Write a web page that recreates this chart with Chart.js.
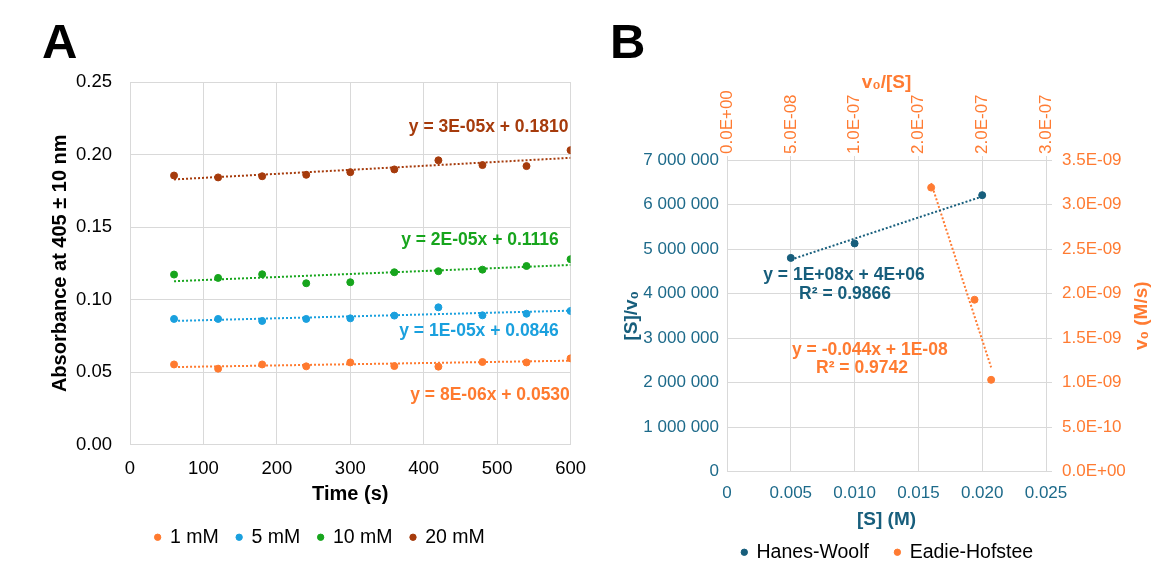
<!DOCTYPE html>
<html>
<head>
<meta charset="utf-8">
<script src="https://cdn.jsdelivr.net/npm/chart.js@4.4.0/dist/chart.umd.min.js"></script>
<style>
    html, body { margin: 0; padding: 0; background: #fff; }
    body { width: 1160px; height: 561px; position: relative; overflow: hidden; font-family: "Liberation Sans", Arial, sans-serif; }
    .letter { position: absolute; font-weight: bold; font-size: 49px; line-height: 1; color: #000; }
    #chart-a { position: absolute; left: 0; top: 0; }
    #chart-b { position: absolute; left: 600px; top: 0; }
</style>
</head>
<body>
<div class="letter" style="left:42px; top:17px;">A</div>
<div class="letter" style="left:610px; top:17px;">B</div>
<canvas id="chart-a" width="599" height="561"></canvas>
<canvas id="chart-b" width="560" height="580"></canvas>
<script>
// ---- panel A : absorbance vs time ----
var timeS = [60, 120, 180, 240, 300, 360, 420, 480, 540, 600];
var abs1mM = [0.0552, 0.0523, 0.0552, 0.0539, 0.0566, 0.0541, 0.0537, 0.0569, 0.0566, 0.0594];
var abs5mM = [0.0866, 0.0866, 0.0852, 0.0866, 0.0870, 0.0889, 0.0946, 0.0891, 0.0902, 0.0921];
var abs10mM = [0.1172, 0.1149, 0.1174, 0.1112, 0.1119, 0.1188, 0.1195, 0.1206, 0.1231, 0.1278];
var abs20mM = [0.1855, 0.1842, 0.1850, 0.1860, 0.1878, 0.1897, 0.1960, 0.1927, 0.1920, 0.2030];

// trend lines, end points
var trendTime = [60, 600];
var trend1mM = [0.0534, 0.0578];
var trend5mM = [0.0852, 0.0923];
var trend10mM = [0.1126, 0.1238];
var trend20mM = [0.1828, 0.1977];

var seriesNamesA = ['1 mM', '5 mM', '10 mM', '20 mM'];
var timeTicks = [0, 100, 200, 300, 400, 500, 600];
var absTicks = [0, 0.05, 0.10, 0.15, 0.20, 0.25];
var absTickLabels = ['0.00', '0.05', '0.10', '0.15', '0.20', '0.25'];
var eqTextA = ['y = 8E-06x + 0.0530', 'y = 1E-05x + 0.0846', 'y = 2E-05x + 0.1116', 'y = 3E-05x + 0.1810'];

// ---- panel B : Hanes-Woolf / Eadie-Hofstee ----
var substrateM = [0.005, 0.010, 0.020];
var hanesWoolf = [4800000, 5125000, 6210000];
var hwTrendX = [0.005, 0.020];
var hwTrendY = [4760000, 6180000];

var eadieX = [1.60e-7, 1.94e-7, 2.07e-7];   // v0/[S]
var eadieY = [3.19e-9, 1.93e-9, 1.03e-9];   // v0
var ehTrendX = [1.60e-7, 2.07e-7];
var ehTrendY = [3.24e-9, 1.17e-9];

var sTicks = [0, 0.005, 0.010, 0.015, 0.020, 0.025];
var sTickLabels = ['0', '0.005', '0.010', '0.015', '0.020', '0.025'];
var svTicks = [0, 1000000, 2000000, 3000000, 4000000, 5000000, 6000000, 7000000];
var svTickLabels = ['0', '1 000 000', '2 000 000', '3 000 000', '4 000 000', '5 000 000', '6 000 000', '7 000 000'];
var vsTicks = [0, 5e-8, 1e-7, 1.5e-7, 2e-7, 2.5e-7];
var vsTickLabels = ['0.0E+00', '5.0E-08', '1.0E-07', '2.0E-07', '2.0E-07', '3.0E-07'];
var v0Ticks = [0, 5e-10, 1e-9, 1.5e-9, 2e-9, 2.5e-9, 3e-9, 3.5e-9];
var v0TickLabels = ['0.0E+00', '5.0E-10', '1.0E-09', '1.5E-09', '2.0E-09', '2.5E-09', '3.0E-09', '3.5E-09'];
var eqTextB = ['y = 1E+08x + 4E+06', 'R² = 0.9866', 'y = -0.044x + 1E-08', 'R² = 0.9742'];

Chart.defaults.font.family = "'Liberation Sans', Arial, sans-serif";
Chart.defaults.color = '#000';

var GRID = '#d9d9d9';
var colorsA = ['#ff7a2f', '#1aa0de', '#17a51d', '#a63b0c'];
var TEAL = '#175e7c';
var TEAL_TICK = '#1d6a8a';
var ORANGE = '#ff7b32';

function pts(xs, ys) {
    return xs.map(function (x, i) { return { x: x, y: ys[i] }; });
}

function fixedTicks(values) {
    return function (scale) {
        scale.ticks = values.map(function (v) { return { value: v }; });
    };
}

// small text labels anchored in data coordinates
var eqPlugin = {
    id: 'eqText',
    afterDatasetsDraw: function (chart, args, opts) {
        var ctx = chart.ctx;
        ctx.save();
        (opts.items || []).forEach(function (it) {
            var xs = chart.scales[it.xAxis || 'x'];
            var ys = chart.scales[it.yAxis || 'y'];
            ctx.font = 'bold 17.5px ' + Chart.defaults.font.family;
            ctx.fillStyle = it.color;
            ctx.textAlign = it.align || 'center';
            ctx.textBaseline = 'middle';
            ctx.fillText(it.text, xs.getPixelForValue(it.x), ys.getPixelForValue(it.y));
        });
        ctx.restore();
    }
};

// right axis title, read bottom to top like the left one
var sideTitlePlugin = {
    id: 'sideTitle',
    afterDraw: function (chart, args, opts) {
        if (!opts.text) return;
        var s = chart.scales[opts.axis];
        var ctx = chart.ctx;
        ctx.save();
        ctx.translate(s.right - opts.offset, (s.top + s.bottom) / 2);
        ctx.rotate(-Math.PI / 2);
        ctx.font = 'bold 19px ' + Chart.defaults.font.family;
        ctx.fillStyle = opts.color;
        ctx.textAlign = 'center';
        ctx.textBaseline = 'middle';
        ctx.fillText(opts.text, 0, 0);
        ctx.restore();
    }
};

// ---------- chart A ----------
var seriesA = [abs1mM, abs5mM, abs10mM, abs20mM];
var trendsA = [trend1mM, trend5mM, trend10mM, trend20mM];
var datasetsA = [];
seriesA.forEach(function (s, i) {
    datasetsA.push({
        label: seriesNamesA[i],
        data: pts(timeS, s),
        backgroundColor: colorsA[i],
        borderColor: colorsA[i],
        borderWidth: 1,
        pointRadius: 3.5,
        pointStyle: 'circle',
        showLine: false
    });
});
trendsA.forEach(function (t, i) {
    datasetsA.push({
        label: 'trend ' + seriesNamesA[i],
        data: pts(trendTime, t),
        borderColor: colorsA[i],
        borderWidth: 2,
        borderDash: [2, 2],
        pointRadius: 0,
        showLine: true,
        fill: false
    });
});

var chartA = new Chart(document.getElementById('chart-a').getContext('2d'), {
    type: 'scatter',
    data: { datasets: datasetsA },
    plugins: [eqPlugin],
    options: {
        responsive: false,
        animation: false,
        layout: { padding: { left: 41, right: 0, top: 82, bottom: 4 } },
        scales: {
            x: {
                type: 'linear', position: 'bottom', min: 0, max: 600,
                afterBuildTicks: fixedTicks(timeTicks),
                ticks: { font: { size: 18.5 }, color: '#000', padding: 13, maxRotation: 0, autoSkip: false },
                grid: { color: GRID, drawTicks: false },
                border: { color: GRID },
                title: { display: true, text: 'Time (s)', font: { size: 20, weight: 'bold' }, color: '#000', padding: { top: 0, bottom: 3 } },
                afterFit: function (s) { s.height = 65; }
            },
            y: {
                type: 'linear', position: 'left', min: 0, max: 0.25,
                afterBuildTicks: fixedTicks(absTicks),
                ticks: { font: { size: 18.5 }, color: '#000', padding: 18, callback: function (v, i) { return absTickLabels[i]; } },
                grid: { color: GRID, drawTicks: false },
                border: { color: GRID },
                title: { display: true, text: 'Absorbance at 405 ± 10 nm', font: { size: 20, weight: 'bold' }, color: '#000', padding: { top: 7, bottom: 0 } },
                afterFit: function (s) { s.width = 89; }
            },
            yPad: {
                type: 'linear', position: 'right', display: true,
                ticks: { display: false }, grid: { display: false }, border: { display: false },
                afterFit: function (s) { s.width = 20; }
            }
        },
        plugins: {
            legend: {
                position: 'bottom',
                labels: {
                    usePointStyle: true, boxWidth: 5, boxHeight: 4.5, padding: 18,
                    font: { size: 19.5 }, color: '#000',
                    filter: function (item) { return item.datasetIndex < 4; }
                }
            },
            tooltip: { enabled: false },
            eqText: {
                items: [
                    { text: eqTextA[3], x: 597, y: 0.219, color: colorsA[3], align: 'right' },
                    { text: eqTextA[2], x: 584, y: 0.1409, color: colorsA[2], align: 'right' },
                    { text: eqTextA[1], x: 584, y: 0.078, color: colorsA[1], align: 'right' },
                    { text: eqTextA[0], x: 599, y: 0.0343, color: colorsA[0], align: 'right' }
                ]
            }
        }
    }
});

// ---------- chart B ----------
var chartB = new Chart(document.getElementById('chart-b').getContext('2d'), {
    type: 'scatter',
    data: {
        datasets: [
            {
                label: 'Hanes-Woolf',
                data: pts(substrateM, hanesWoolf),
                xAxisID: 'x', yAxisID: 'y',
                backgroundColor: TEAL, borderColor: TEAL, borderWidth: 1,
                pointRadius: 3.5, pointStyle: 'circle', showLine: false
            },
            {
                label: 'Eadie-Hofstee',
                data: pts(eadieX, eadieY),
                xAxisID: 'x2', yAxisID: 'y2',
                backgroundColor: ORANGE, borderColor: ORANGE, borderWidth: 1,
                pointRadius: 3.5, pointStyle: 'circle', showLine: false
            },
            {
                label: 'trend HW',
                data: pts(hwTrendX, hwTrendY),
                xAxisID: 'x', yAxisID: 'y',
                borderColor: TEAL, borderWidth: 2, borderDash: [2, 2],
                pointRadius: 0, showLine: true, fill: false
            },
            {
                label: 'trend EH',
                data: pts(ehTrendX, ehTrendY),
                xAxisID: 'x2', yAxisID: 'y2',
                borderColor: ORANGE, borderWidth: 2, borderDash: [2, 2],
                pointRadius: 0, showLine: true, fill: false
            }
        ]
    },
    plugins: [eqPlugin, sideTitlePlugin],
    options: {
        responsive: false,
        animation: false,
        layout: { padding: { left: 20, right: 5, top: 71, bottom: 8 } },
        scales: {
            x: {
                type: 'linear', position: 'bottom', min: 0, max: 0.025,
                afterBuildTicks: fixedTicks(sTicks),
                ticks: { font: { size: 17 }, color: TEAL_TICK, padding: 12, maxRotation: 0, autoSkip: false, callback: function (v, i) { return sTickLabels[i]; } },
                grid: { color: GRID, drawTicks: false },
                border: { color: GRID },
                title: { display: true, text: '[S] (M)', font: { size: 19, weight: 'bold' }, color: TEAL, padding: { top: 0, bottom: -15 } },
                afterFit: function (s) { s.height = 45; }
            },
            x2: {
                type: 'linear', position: 'top', min: 0, max: 2.5e-7,
                afterBuildTicks: fixedTicks(vsTicks),
                ticks: { font: { size: 17 }, color: ORANGE, padding: 2, labelOffset: 20.5, minRotation: 90, maxRotation: 90, autoSkip: false, callback: function (v, i) { return vsTickLabels[i]; } },
                grid: { display: true, drawOnChartArea: false, drawTicks: true, tickLength: 4, color: GRID },
                border: { display: false },
                title: { display: true, text: 'v₀/[S]', font: { size: 19, weight: 'bold' }, color: ORANGE, padding: 0 },
                afterFit: function (s) { s.height = 89; }
            },
            y: {
                type: 'linear', position: 'left', min: 0, max: 7000000,
                afterBuildTicks: fixedTicks(svTicks),
                ticks: { font: { size: 17 }, color: TEAL_TICK, padding: 8, callback: function (v, i) { return svTickLabels[i]; } },
                grid: { color: GRID, drawTicks: false },
                border: { color: GRID },
                title: { display: true, text: '[S]/v₀', font: { size: 19, weight: 'bold' }, color: TEAL, padding: 0 },
                afterFit: function (s) { s.width = 107; }
            },
            y2: {
                type: 'linear', position: 'right', min: 0, max: 3.5e-9,
                afterBuildTicks: fixedTicks(v0Ticks),
                ticks: { font: { size: 17 }, color: ORANGE, padding: 10, callback: function (v, i) { return v0TickLabels[i]; } },
                grid: { display: true, drawOnChartArea: false, drawTicks: true, tickLength: 6, color: GRID },
                border: { color: GRID },
                afterFit: function (s) { s.width = 109; }
            }
        },
        plugins: {
            legend: {
                position: 'bottom',
                labels: {
                    usePointStyle: true, boxWidth: 5, boxHeight: 4.5, padding: 26,
                    font: { size: 19.5 }, color: '#000',
                    filter: function (item) { return item.datasetIndex < 2; }
                }
            },
            tooltip: { enabled: false },
            sideTitle: { axis: 'y2', text: 'v₀ (M/s)', color: ORANGE, offset: 13 },
            eqText: {
                items: [
                    { text: eqTextB[0], x: 0.00917, y: 4410000, color: TEAL },
                    { text: eqTextB[1], x: 0.00925, y: 3980000, color: TEAL },
                    { text: eqTextB[2], x: 0.01119, y: 2720000, color: ORANGE },
                    { text: eqTextB[3], x: 0.01058, y: 2320000, color: ORANGE }
                ]
            }
        }
    }
});
</script>
</body>
</html>
